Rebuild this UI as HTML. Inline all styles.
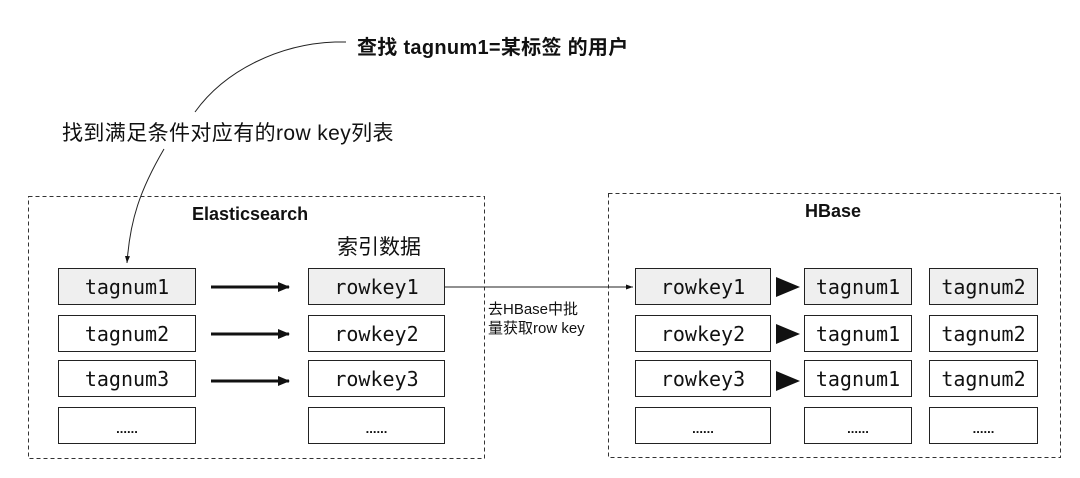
<!DOCTYPE html>
<html><head><meta charset="utf-8"><style>
html,body{margin:0;padding:0;background:#fff;}
body{width:1080px;height:478px;position:relative;overflow:hidden;font-family:"Liberation Sans","Noto Sans CJK SC",sans-serif;}
.b{position:absolute;border:1.5px solid #222;box-sizing:border-box;font-family:"DejaVu Sans Mono","Liberation Mono",monospace;font-size:20px;display:flex;align-items:center;justify-content:center;color:#111;background:#fff;}
.g{background:#efefef;}
.t{position:absolute;white-space:nowrap;color:#111;}
.dots{font-size:13px;font-weight:bold;font-family:"Liberation Sans",sans-serif;padding-top:6px;}
</style></head><body>

<div class="t" style="left:357px;top:31px;font-size:20px;font-weight:bold;letter-spacing:0.3px">查找 tagnum1=某标签 的用户</div>
<div class="t" style="left:62px;top:117px;font-size:21px;letter-spacing:0.4px">找到满足条件对应有的row key列表</div>
<div class="t" style="left:192px;top:204px;font-size:18px;font-weight:bold">Elasticsearch</div>
<div class="t" style="left:337px;top:231px;font-size:21px">索引数据</div>
<div class="t" style="left:805px;top:201px;font-size:18px;font-weight:bold">HBase</div>
<div class="t" style="left:488px;top:300px;font-size:15px;line-height:19px">去HBase中批<br>量获取row key</div>

<svg width="1080" height="478" style="position:absolute;left:0;top:0">
<defs><marker id="a" markerWidth="12" markerHeight="12" refX="11" refY="6" orient="auto" markerUnits="userSpaceOnUse"><path d="M0,1 L12,6 L0,11Z" fill="#111"/></marker>
<marker id="s" markerWidth="8" markerHeight="8" refX="7" refY="4" orient="auto" markerUnits="userSpaceOnUse"><path d="M0,1.5 L7,4 L0,6.5Z" fill="#111"/></marker></defs>
<rect x="28.5" y="196.5" width="456" height="262" fill="none" stroke="#333" stroke-dasharray="4,3"/>
<rect x="608.5" y="193.5" width="452" height="264" fill="none" stroke="#333" stroke-dasharray="4,3"/>
<path d="M346,42 L335,42 C280,44 225,70 195,112" fill="none" stroke="#222" stroke-width="1"/>
<path d="M164,149 C140,190 130,220 127,263" fill="none" stroke="#222" stroke-width="1" marker-end="url(#s)"/>
<g stroke="#111" stroke-width="3">
<line x1="211" y1="287" x2="289" y2="287" marker-end="url(#a)"/>
<line x1="211" y1="334" x2="289" y2="334" marker-end="url(#a)"/>
<line x1="211" y1="381" x2="289" y2="381" marker-end="url(#a)"/>
</g>
<line x1="445" y1="287" x2="633" y2="287" stroke="#222" stroke-width="1" marker-end="url(#s)"/>
<path d="M776,277 L800,287 L776,297Z" fill="#111"/>
<path d="M776,324 L800,334 L776,344Z" fill="#111"/>
<path d="M776,371 L800,381 L776,391Z" fill="#111"/>
</svg>

<div class="b g" style="left:58px;top:268px;width:138px;height:37px">tagnum1</div>
<div class="b" style="left:58px;top:315px;width:138px;height:37px">tagnum2</div>
<div class="b" style="left:58px;top:360px;width:138px;height:37px">tagnum3</div>
<div class="b dots" style="left:58px;top:407px;width:138px;height:37px">......</div>
<div class="b g" style="left:308px;top:268px;width:137px;height:37px">rowkey1</div>
<div class="b" style="left:308px;top:315px;width:137px;height:37px">rowkey2</div>
<div class="b" style="left:308px;top:360px;width:137px;height:37px">rowkey3</div>
<div class="b dots" style="left:308px;top:407px;width:137px;height:37px">......</div>

<div class="b g" style="left:635px;top:268px;width:136px;height:37px">rowkey1</div>
<div class="b" style="left:635px;top:315px;width:136px;height:37px">rowkey2</div>
<div class="b" style="left:635px;top:360px;width:136px;height:37px">rowkey3</div>
<div class="b dots" style="left:635px;top:407px;width:136px;height:37px">......</div>
<div class="b g" style="left:804px;top:268px;width:108px;height:37px">tagnum1</div>
<div class="b" style="left:804px;top:315px;width:108px;height:37px">tagnum1</div>
<div class="b" style="left:804px;top:360px;width:108px;height:37px">tagnum1</div>
<div class="b dots" style="left:804px;top:407px;width:108px;height:37px">......</div>
<div class="b g" style="left:929px;top:268px;width:109px;height:37px">tagnum2</div>
<div class="b" style="left:929px;top:315px;width:109px;height:37px">tagnum2</div>
<div class="b" style="left:929px;top:360px;width:109px;height:37px">tagnum2</div>
<div class="b dots" style="left:929px;top:407px;width:109px;height:37px">......</div>
</body></html>
